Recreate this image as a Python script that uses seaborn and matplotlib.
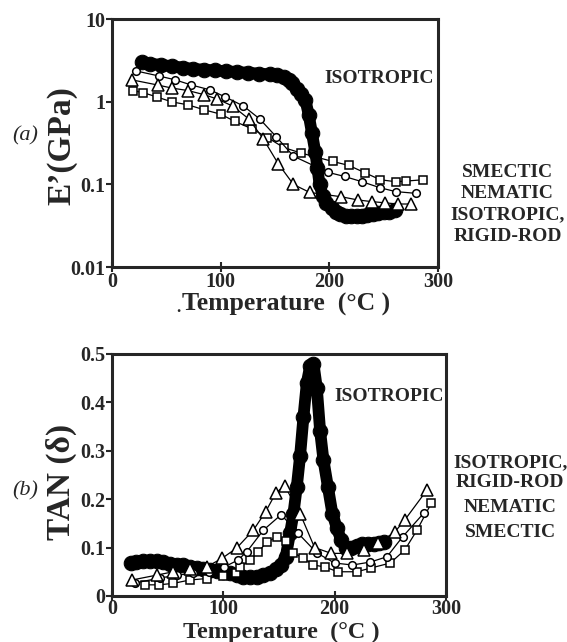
import numpy as np
import pandas as pd
import matplotlib
matplotlib.use("Agg")
import matplotlib.pyplot as plt
import seaborn as sns

# ---- (a) storage modulus E' (GPa) ----
iso_T_a = [28, 35, 45, 55, 65, 75, 85, 95, 105, 115, 125, 135, 145, 152, 158, 163, 166,
           170, 174, 178, 181, 184, 187, 189, 191, 194, 197, 202, 206, 210, 215, 220, 225,
           230, 235, 240, 245, 250, 255, 260]
iso_E = [3.0, 2.9, 2.8, 2.7, 2.6, 2.5, 2.45, 2.4, 2.35, 2.3, 2.25, 2.2, 2.15, 2.1, 2.0, 1.85, 1.7,
         1.45, 1.25, 1.05, 0.7, 0.42, 0.25, 0.16, 0.1, 0.072, 0.06, 0.052, 0.047, 0.044, 0.042,
         0.041, 0.041, 0.042, 0.043, 0.044, 0.045, 0.046, 0.047, 0.049]

nem_T_a = [22, 43, 58, 73, 90, 104, 121, 136, 151, 167, 199, 214, 230, 247, 261, 280]
nem_E = [2.37, 2.06, 1.85, 1.6, 1.4, 1.15, 0.89, 0.62, 0.38, 0.22, 0.14, 0.125, 0.108, 0.091,
         0.082, 0.078]

sme_T_a = [19, 29, 41, 55, 70, 85, 100, 113, 129, 143, 158, 174, 203, 218, 233, 247, 261, 271, 286]
sme_E = [1.37, 1.29, 1.15, 1.0, 0.92, 0.8, 0.71, 0.58, 0.47, 0.37, 0.28, 0.24, 0.19, 0.17,
         0.138, 0.114, 0.108, 0.11, 0.114]

rod_T_a = [18, 42, 55, 70, 85, 97, 111, 126, 139, 153, 167, 182, 211, 226, 239, 251, 263, 275]
rod_E = [1.85, 1.6, 1.47, 1.37, 1.22, 1.08, 0.89, 0.62, 0.36, 0.178, 0.10, 0.08, 0.071, 0.065,
         0.062, 0.06, 0.058, 0.058]

# ---- (b) tan delta ----
iso_T_b = [17, 22, 28, 34, 40, 46, 52, 58, 64, 70, 76, 82, 88, 94, 100, 106, 112, 118, 124, 130,
           136, 142, 147, 152, 156, 160, 163, 166, 169, 172, 175, 178, 181, 184, 187, 190, 194,
           198, 202, 206, 210, 215, 220, 225, 230, 235, 240, 244]
iso_tan = [0.068, 0.07, 0.072, 0.073, 0.072, 0.07, 0.067, 0.065, 0.063, 0.06, 0.058, 0.056, 0.054,
           0.052, 0.05, 0.047, 0.043, 0.04, 0.039, 0.04, 0.043, 0.048, 0.055, 0.065, 0.08, 0.13,
           0.17, 0.225, 0.29, 0.37, 0.44, 0.475, 0.48, 0.43, 0.34, 0.28, 0.225, 0.17, 0.14, 0.115,
           0.1, 0.1, 0.104, 0.107, 0.108, 0.108, 0.11, 0.112]

rod_T_b = [18, 40, 55, 70, 85, 99, 112, 127, 138, 147, 155, 169, 182, 197, 211, 226, 239, 254, 263, 283]
rod_tan = [0.033, 0.043, 0.05, 0.055, 0.06, 0.078, 0.099, 0.136, 0.174, 0.212, 0.228, 0.17, 0.10,
           0.088, 0.088, 0.095, 0.109, 0.132, 0.157, 0.219]

nem_T_b = [21, 43, 58, 73, 87, 101, 113, 121, 136, 152, 167, 184, 200, 216, 232, 247, 261, 280]
nem_tan = [0.027, 0.037, 0.043, 0.047, 0.05, 0.06, 0.074, 0.091, 0.136, 0.168, 0.13, 0.089, 0.068,
           0.064, 0.07, 0.081, 0.122, 0.171]

sme_T_b = [30, 42, 55, 70, 85, 100, 111, 115, 124, 131, 139, 148, 156, 163, 172, 181, 191, 203,
           220, 233, 250, 263, 274, 287]
sme_tan = [0.023, 0.023, 0.026, 0.033, 0.036, 0.042, 0.047, 0.06, 0.074, 0.09, 0.111, 0.122, 0.114,
           0.089, 0.078, 0.064, 0.06, 0.05, 0.05, 0.058, 0.068, 0.095, 0.136, 0.192]

sns.set_style("ticks")
plt.rcParams['font.family'] = ['Liberation Serif', 'DejaVu Serif']
plt.rcParams['font.weight'] = 'bold'

fig = plt.figure(figsize=(5.67, 6.42), dpi=100)
ax1 = fig.add_axes([0.1975, 0.584, 0.575, 0.386])
ax2 = fig.add_axes([0.1975, 0.0717, 0.589, 0.377])

open_kw = dict(color='k', linewidth=0.9, markerfacecolor='white', markeredgecolor='k',
               markeredgewidth=1.1)


def draw(ax, iso, series):
    sns.lineplot(x=iso[0], y=iso[1], ax=ax, sort=False, color='k', linewidth=8.5,
                 marker='o', markersize=10.5, markerfacecolor='k', markeredgecolor='k')
    for (t, v), m, ms in series:
        sns.lineplot(x=t, y=v, ax=ax, sort=False, marker=m, markersize=ms, **open_kw)


draw(ax1, (iso_T_a, iso_E),
     [((sme_T_a, sme_E), 's', 5.5), ((nem_T_a, nem_E), 'o', 5.5), ((rod_T_a, rod_E), '^', 8.5)])
draw(ax2, (iso_T_b, iso_tan),
     [((sme_T_b, sme_tan), 's', 5.5), ((nem_T_b, nem_tan), 'o', 5.5), ((rod_T_b, rod_tan), '^', 8.5)])

ax1.set_yscale('log')
ax1.set_ylim(0.01, 10)
ax1.set_xlim(0, 293)
ax1.set_yticks([0.01, 0.1, 1, 10])
ax1.set_yticklabels(['0.01', '0.1', '1', '10'])
ax1.minorticks_off()

ax2.set_ylim(0, 0.5)
ax2.set_xlim(0, 300)
ax2.set_yticks([0, 0.1, 0.2, 0.3, 0.4, 0.5])
ax2.set_yticklabels(['0', '0.1', '0.2', '0.3', '0.4', '0.5'])

for ax in (ax1, ax2):
    ax.set_xticks([0, 100, 200, 300])
    for s in ax.spines.values():
        s.set_visible(True)
        s.set_linewidth(2.2)
    ax.tick_params(axis='x', direction='inout', length=7, width=1.5, labelsize=14.5, pad=0)
    ax.tick_params(axis='y', direction='out', length=4, width=1.5, labelsize=14.5, pad=1)
    for lab in ax.get_xticklabels() + ax.get_yticklabels():
        lab.set_fontweight('bold')
    ax.set_xlabel('')
    ax.set_ylabel('')
ax2.tick_params(axis='x', pad=-1.5)

# axis titles placed as figure text
fig.text(0.109, 0.774, 'E\u2019(GPa)', rotation=90, ha='center', va='center', fontsize=24,
         fontweight='bold')
fig.text(0.109, 0.250, 'TAN (\u03b4)', rotation=90, ha='center', va='center', fontsize=24,
         fontweight='bold')

fig.text(0.321, 0.517, 'Temperature  (\u00b0C )', ha='left', va='baseline', fontsize=18.5,
         fontweight='bold')
fig.text(0.315, 0.514, '.', ha='center', va='baseline', fontsize=12, fontweight='bold')
fig.text(0.323, 0.006, 'Temperature  (\u00b0C )', ha='left', va='baseline', fontsize=17.5,
         fontweight='bold')

fig.text(0.045, 0.788, '(a)', ha='center', va='center', fontsize=16, style='italic',
         fontweight='normal')
fig.text(0.045, 0.235, '(b)', ha='center', va='center', fontsize=16, style='italic',
         fontweight='normal')

txt = dict(ha='center', va='center', fontsize=14, fontweight='bold')
fig.text(0.668, 0.877, 'ISOTROPIC', **txt)
fig.text(0.895, 0.732, 'SMECTIC', **txt)
fig.text(0.895, 0.699, 'NEMATIC', **txt)
fig.text(0.895, 0.665, 'ISOTROPIC,', **txt)
fig.text(0.895, 0.631, 'RIGID-ROD', **txt)

fig.text(0.686, 0.382, 'ISOTROPIC', **txt)
fig.text(0.900, 0.280, 'ISOTROPIC,', **txt)
fig.text(0.900, 0.249, 'RIGID-ROD', **txt)
fig.text(0.900, 0.209, 'NEMATIC', **txt)
fig.text(0.900, 0.170, 'SMECTIC', **txt)

fig.savefig('out.png', dpi=100)
